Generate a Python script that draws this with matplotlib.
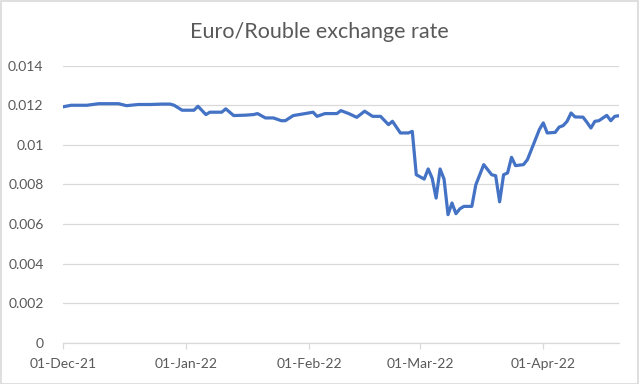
import matplotlib
matplotlib.use("Agg")
import matplotlib.pyplot as plt
import matplotlib.dates as mdates
from matplotlib.ticker import FuncFormatter
import pandas as pd

title = "Euro/Rouble exchange rate"

dates = [
    "2021-12-01", "2021-12-03", "2021-12-07", "2021-12-10", "2021-12-15", "2021-12-17",
    "2021-12-20", "2021-12-23", "2021-12-26", "2021-12-28", "2021-12-29", "2021-12-31",
    "2022-01-03", "2022-01-04", "2022-01-06", "2022-01-07", "2022-01-10", "2022-01-11",
    "2022-01-13", "2022-01-16", "2022-01-18", "2022-01-19", "2022-01-21", "2022-01-23",
    "2022-01-25", "2022-01-26", "2022-01-28", "2022-01-31", "2022-02-02", "2022-02-03",
    "2022-02-05", "2022-02-08", "2022-02-09", "2022-02-11", "2022-02-13", "2022-02-15",
    "2022-02-17", "2022-02-19", "2022-02-21", "2022-02-22", "2022-02-24", "2022-02-26",
    "2022-02-27", "2022-02-28", "2022-03-02", "2022-03-03", "2022-03-04", "2022-03-05",
    "2022-03-06", "2022-03-07", "2022-03-08", "2022-03-09", "2022-03-10", "2022-03-11",
    "2022-03-12", "2022-03-14", "2022-03-15", "2022-03-17", "2022-03-19", "2022-03-20",
    "2022-03-21", "2022-03-22", "2022-03-23", "2022-03-24", "2022-03-25", "2022-03-27",
    "2022-03-28", "2022-03-30", "2022-03-31", "2022-04-01", "2022-04-02", "2022-04-04",
    "2022-04-05", "2022-04-06", "2022-04-07", "2022-04-08", "2022-04-09", "2022-04-11",
    "2022-04-12", "2022-04-13", "2022-04-14", "2022-04-15", "2022-04-17", "2022-04-18",
    "2022-04-19", "2022-04-20",
]
rates = [
    0.01192, 0.01200, 0.01200, 0.01208, 0.01208, 0.01198,
    0.01204, 0.01204, 0.01206, 0.01206, 0.01200, 0.01175,
    0.01175, 0.01195, 0.01153, 0.01165, 0.01165, 0.01182,
    0.01148, 0.01150, 0.01153, 0.01158, 0.01136, 0.01136,
    0.01122, 0.01122, 0.01148, 0.01158, 0.01165, 0.01144,
    0.01158, 0.01158, 0.01173, 0.01158, 0.01139, 0.01170,
    0.01144, 0.01144, 0.01102, 0.01119, 0.01060, 0.01060,
    0.01068, 0.00849, 0.00827, 0.00878, 0.00832, 0.00731,
    0.00878, 0.00827, 0.00647, 0.00706, 0.00652, 0.00677,
    0.00689, 0.00689, 0.00798, 0.00900, 0.00849, 0.00844,
    0.00712, 0.00849, 0.00858, 0.00937, 0.00895, 0.00900,
    0.00925, 0.01026, 0.01077, 0.01111, 0.01060, 0.01063,
    0.01090, 0.01097, 0.01119, 0.01161, 0.01141, 0.01140,
    0.01114, 0.01085, 0.01119, 0.01122, 0.01149, 0.01122,
    0.01144, 0.01147,
]
tick_dates = ["2021-12-01", "2022-01-01", "2022-02-01", "2022-03-01", "2022-04-01"]
y_ticks = [0, 0.002, 0.004, 0.006, 0.008, 0.01, 0.012, 0.014]

x = pd.to_datetime(dates)
xt = pd.to_datetime(tick_dates)

font = ["Lato", "DejaVu Sans"]
grey = "#595959"
gridc = "#D9D9D9"

fig = plt.figure(figsize=(6.39, 3.84), dpi=100)
ax = fig.add_axes([63 / 639, 1 - 342.7 / 384, (618.7 - 63) / 639, (342.7 - 65.7) / 384])

ax.plot(x, rates, color="#4472C4", linewidth=2.3, solid_joinstyle="round", solid_capstyle="round")

ax.set_xlim(pd.Timestamp("2021-12-01"), pd.Timestamp("2022-04-20"))
ax.set_ylim(0, 0.014)
ax.set_yticks(y_ticks)
ax.yaxis.set_major_formatter(FuncFormatter(lambda v, p: f"{v:g}"))
ax.set_xticks(xt)
ax.xaxis.set_major_formatter(mdates.DateFormatter("%d-%b-%y"))

ax.grid(axis="y", color=gridc, linewidth=0.9)
ax.set_axisbelow(True)
for s in ["top", "right", "left"]:
    ax.spines[s].set_visible(False)
ax.spines["bottom"].set_color(gridc)
ax.spines["bottom"].set_linewidth(0.9)
ax.tick_params(axis="y", length=0, pad=14, labelsize=10, labelcolor=grey)
ax.tick_params(axis="x", length=4, width=0.9, color=gridc, pad=7, labelsize=10, labelcolor=grey)
for lab in ax.get_xticklabels() + ax.get_yticklabels():
    lab.set_family(font)

fig.text(0.5, 1 - 32 / 384, title, ha="center", va="center", fontsize=15.5, color=grey, family=font)

fig.patches.append(plt.Rectangle((0.5 / 639, 0.5 / 384), 637.5 / 639, 382.5 / 384, transform=fig.transFigure,
                                 fill=False, edgecolor=gridc, linewidth=1.2))

fig.savefig("out.png", dpi=100)
